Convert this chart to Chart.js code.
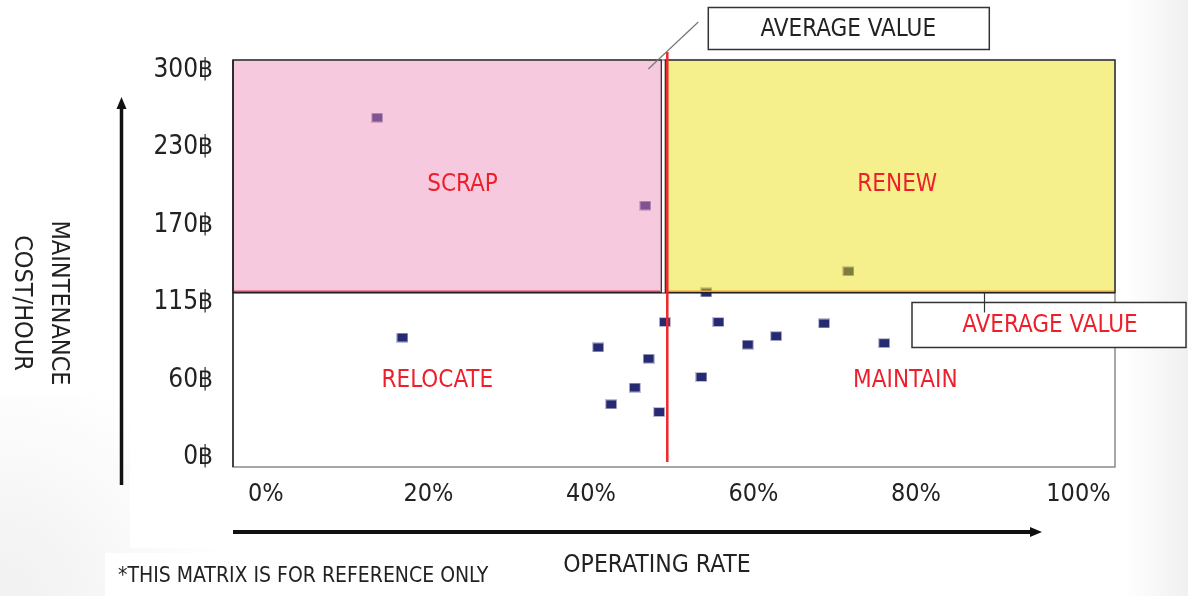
<!DOCTYPE html>
<html lang="en">
<head>
<meta charset="UTF-8">
<title>Operating rate / maintenance cost matrix</title>
<script src="https://cdn.jsdelivr.net/npm/chart.js"></script>
<style>
  html, body { margin: 0; padding: 0; background: #fff; }
  #matrix { display: block; }
</style>
</head>
<body>
<canvas id="matrix" width="1188" height="596"></canvas>
<script>
const FONT = '"Liberation Sans Narrow", "DejaVu Sans Condensed", "Liberation Sans", sans-serif';

// axis ticks
const rateTicks = [0, 20, 40, 60, 80, 100];
const costTicks = [0, 60, 115, 170, 230, 300];

// one entry per machine: operating rate (%) and maintenance cost (฿ / hour)
const machineRate = [13.7, 46.7, 71.7, 54.2, 16.8, 40.9, 42.5, 45.4, 47.1, 48.4, 49.1, 53.6, 55.7, 59.3, 62.8, 68.7, 76.1];
const machineCost = [257, 185, 137, 122, 90, 83, 41, 54, 75, 35, 101, 62, 101, 85, 91, 100, 86];

// fleet averages splitting the four quadrants
const avgRate = 49.4;
const avgCost = 122;

const quadrantNames = ['SCRAP', 'RENEW', 'RELOCATE', 'MAINTAIN'];
const avgLabel = 'AVERAGE VALUE';
const xTitle = 'OPERATING RATE';
const yTitle = ['MAINTENANCE', 'COST/HOUR'];
const footnote = '*THIS MATRIX IS FOR REFERENCE ONLY';

// cost ticks are evenly spaced on screen, so costs are placed piecewise between them
function costToAxis(v) {
  for (let i = 1; i < costTicks.length; i++) {
    if (v <= costTicks[i]) {
      return i - 1 + (v - costTicks[i - 1]) / (costTicks[i] - costTicks[i - 1]);
    }
  }
  return costTicks.length - 1;
}

// small navy rectangle used as point marker
const dot = document.createElement('canvas');
dot.width = 12;
dot.height = 10;
const dctx = dot.getContext('2d');
dctx.fillStyle = 'rgba(38,42,114,0.3)';
dctx.fillRect(0, 0, 12, 10);
dctx.fillStyle = '#262a72';
dctx.fillRect(1, 1, 10, 8);

function txt(ctx, s, x, y, size, color, align) {
  ctx.font = size + 'px ' + FONT;
  ctx.fillStyle = color;
  ctx.textAlign = align || 'center';
  ctx.textBaseline = 'middle';
  ctx.fillText(s, x, y);
}

function arrow(ctx, x1, y1, x2, y2, w, head) {
  const ang = Math.atan2(y2 - y1, x2 - x1);
  ctx.strokeStyle = '#111';
  ctx.fillStyle = '#111';
  ctx.lineWidth = w;
  ctx.beginPath();
  ctx.moveTo(x1, y1);
  ctx.lineTo(x2 - Math.cos(ang) * head, y2 - Math.sin(ang) * head);
  ctx.stroke();
  ctx.save();
  ctx.translate(x2, y2);
  ctx.rotate(ang);
  ctx.beginPath();
  ctx.moveTo(0, 0);
  ctx.lineTo(-head, -5);
  ctx.lineTo(-head, 5);
  ctx.closePath();
  ctx.fill();
  ctx.restore();
}

const matrixPlugin = {
  id: 'matrix',
  beforeDraw(chart) {
    const { ctx, width, height } = chart;
    ctx.save();
    ctx.fillStyle = '#ffffff';
    ctx.fillRect(0, 0, width, height);
    // faint grey shading toward the right edge and lower left corner
    const gr = ctx.createLinearGradient(1125, 0, 1188, 0);
    gr.addColorStop(0, 'rgba(240,240,240,0)');
    gr.addColorStop(1, 'rgba(240,240,240,1)');
    ctx.fillStyle = gr;
    ctx.fillRect(1125, 0, 63, height);
    const gl = ctx.createRadialGradient(0, 596, 30, 0, 596, 230);
    gl.addColorStop(0, 'rgba(242,242,242,1)');
    gl.addColorStop(1, 'rgba(242,242,242,0)');
    ctx.fillStyle = gl;
    ctx.fillRect(0, 360, 240, 236);
    ctx.fillStyle = '#ffffff';
    ctx.fillRect(130, 0, 995, 548);
    ctx.fillRect(0, 208, 88, 188);
    ctx.fillRect(105, 553, 386, 43);
    ctx.restore();
  },
  afterDatasetsDraw(chart) {
    const { ctx, chartArea: a, scales: { x, y } } = chart;
    const ax = x.getPixelForValue(avgRate);
    const ay = y.getPixelForValue(costToAxis(avgCost));
    ctx.save();

    // translucent quadrant fills laid over the markers
    ctx.fillStyle = 'rgba(238,135,182,0.45)';
    ctx.fillRect(a.left, a.top, ax - 6 - a.left, ay - a.top);
    ctx.fillStyle = 'rgba(235,222,0,0.45)';
    ctx.fillRect(ax - 2, a.top, a.right - ax + 2, ay - a.top);

    // plot frame
    ctx.lineWidth = 1.5;
    ctx.strokeStyle = '#8a8a8a';
    ctx.strokeRect(a.left, a.top, a.right - a.left, a.bottom - a.top);
    ctx.strokeStyle = '#222';
    ctx.beginPath();
    ctx.moveTo(a.left, a.top);
    ctx.lineTo(a.left, a.bottom);
    ctx.stroke();

    // quadrant outlines
    ctx.lineWidth = 1.2;
    ctx.strokeStyle = '#222';
    ctx.strokeRect(a.left, a.top, ax - 6 - a.left, ay - a.top);
    ctx.strokeRect(ax - 2, a.top, a.right - ax + 2, ay - a.top);
    ctx.beginPath();
    ctx.moveTo(a.left, ay + 0.5);
    ctx.lineTo(a.right, ay + 0.5);
    ctx.stroke();
    ctx.lineWidth = 1.5;
    ctx.strokeStyle = '#d8405e';
    ctx.beginPath();
    ctx.moveTo(a.left + 1, ay - 1.2);
    ctx.lineTo(ax - 7, ay - 1.2);
    ctx.stroke();
    ctx.strokeStyle = '#f29a2e';
    ctx.beginPath();
    ctx.moveTo(ax - 0.5, a.top + 1);
    ctx.lineTo(ax - 0.5, ay - 1.2);
    ctx.lineTo(a.right - 1, ay - 1.2);
    ctx.stroke();

    // average operating rate
    ctx.strokeStyle = '#f0262a';
    ctx.lineWidth = 2.5;
    ctx.beginPath();
    ctx.moveTo(ax, a.top - 8);
    ctx.lineTo(ax, a.bottom - 5);
    ctx.stroke();

    // quadrant names
    const spots = [[24.2, 201], [77.7, 201], [21.1, 59], [78.7, 59]];
    quadrantNames.forEach((n, i) => {
      txt(ctx, n, x.getPixelForValue(spots[i][0]), y.getPixelForValue(costToAxis(spots[i][1])), 24, '#ed1f2b');
    });

    // callout for the average rate
    ctx.strokeStyle = '#777';
    ctx.lineWidth = 1.2;
    ctx.beginPath();
    ctx.moveTo(ax - 19, a.top + 9);
    ctx.lineTo(ax + 31, a.top - 38);
    ctx.stroke();
    ctx.fillStyle = '#fff';
    ctx.fillRect(ax + 41, 7.5, 281, 42);
    ctx.strokeStyle = '#333';
    ctx.lineWidth = 1.5;
    ctx.strokeRect(ax + 41, 7.5, 281, 42);
    txt(ctx, avgLabel, ax + 181, 29.5, 24, '#222');

    // callout for the average cost
    ctx.fillStyle = '#fff';
    ctx.fillRect(912, ay + 10, 274, 45);
    ctx.strokeRect(912, ay + 10, 274, 45);
    ctx.strokeStyle = '#333';
    ctx.lineWidth = 1.2;
    ctx.beginPath();
    ctx.moveTo(984.5, ay);
    ctx.lineTo(984.5, ay + 20);
    ctx.stroke();
    txt(ctx, avgLabel, 1050, ay + 33.5, 24, '#ed1f2b');

    // axis arrows and titles
    arrow(ctx, a.left - 111.5, a.bottom + 18, a.left - 111.5, a.top + 37, 3.5, 12);
    arrow(ctx, a.left, a.bottom + 65, a.right - 73, a.bottom + 65, 4, 12);
    txt(ctx, xTitle, 657, 566, 24.5, '#222');
    txt(ctx, footnote, 118, 577, 21, '#222', 'left');
    ctx.save();
    ctx.translate(58, 303);
    ctx.rotate(Math.PI / 2);
    txt(ctx, yTitle[0], 0, 0, 25, '#222');
    ctx.restore();
    ctx.save();
    ctx.translate(21, 303);
    ctx.rotate(Math.PI / 2);
    txt(ctx, yTitle[1], 0, 0, 25, '#222');
    ctx.restore();

    ctx.restore();
  }
};

new Chart(document.getElementById('matrix'), {
  type: 'scatter',
  data: {
    datasets: [{
      data: machineRate.map((r, i) => ({ x: r, y: costToAxis(machineCost[i]) })),
      pointStyle: dot,
      pointRadius: 5
    }]
  },
  options: {
    responsive: false,
    animation: false,
    events: [],
    layout: { padding: { left: 0, top: 60, right: 73, bottom: 0 } },
    plugins: { legend: { display: false }, tooltip: { enabled: false } },
    scales: {
      x: {
        type: 'linear',
        min: -4.05,
        max: 104.5,
        afterBuildTicks: s => { s.ticks = rateTicks.map(v => ({ value: v })); },
        afterFit: s => { s.height = 129; },
        grid: { display: false, drawTicks: false },
        border: { display: false },
        ticks: {
          autoSkip: false,
          maxRotation: 0,
          padding: 12,
          color: '#222',
          font: { family: FONT, size: 25 },
          callback: v => v + '%'
        }
      },
      y: {
        type: 'linear',
        min: -0.126,
        max: 5.129,
        afterBuildTicks: s => { s.ticks = costTicks.map((v, i) => ({ value: i })); },
        afterFit: s => { s.width = 233; },
        grid: { display: false, drawTicks: false },
        border: { display: false },
        ticks: {
          autoSkip: false,
          padding: 20,
          color: '#222',
          font: { family: FONT, size: 26 },
          callback: v => costTicks[v] + '฿'
        }
      }
    }
  },
  plugins: [matrixPlugin]
});
</script>
</body>
</html>
